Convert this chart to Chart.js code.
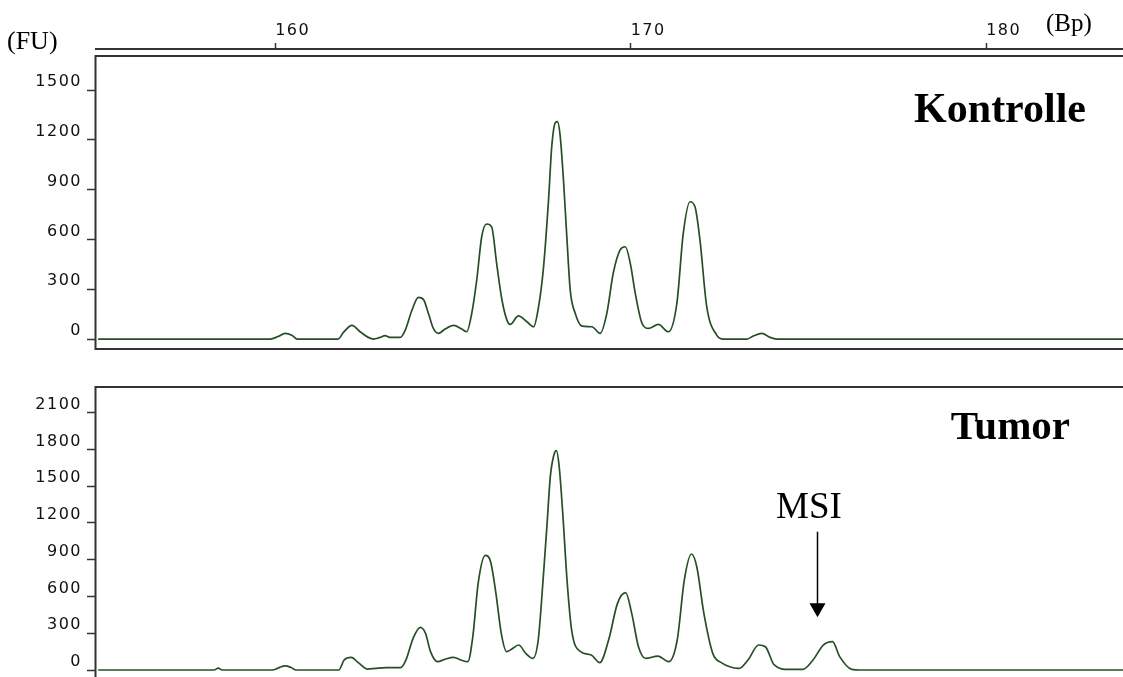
<!DOCTYPE html>
<html>
<head>
<meta charset="utf-8">
<title>Fragmentanalyse Kontrolle / Tumor</title>
<script src="https://cdn.jsdelivr.net/npm/chart.js@4.4.1/dist/chart.umd.min.js"></script>
<style>
  html, body { margin: 0; padding: 0; background: #fff; }
  #page { position: relative; width: 1123px; height: 677px; overflow: hidden; }
  #page canvas { position: absolute; left: 0; }
  #kontrolleChart { top: 0; }
  #tumorChart { top: 380px; }
  .note {
    position: absolute;
    font-family: 'Liberation Serif', 'Times New Roman', serif;
    line-height: 1;
    color: #000;
    white-space: nowrap;
  }
  .unit { font-size: 26px; }
  .panel-name { font-size: 42px; font-weight: bold; }
</style>
</head>
<body>
<div id="page">
  <canvas id="kontrolleChart" width="1123" height="351"></canvas>
  <canvas id="tumorChart" width="1123" height="297"></canvas>
  <div class="note unit" style="left:7px; top:28px;">(FU)</div>
  <div class="note unit" style="left:1046px; top:10px; font-size:25px;">(Bp)</div>
  <div class="note panel-name" style="right:37px; top:87px;">Kontrolle</div>
  <div class="note panel-name" style="right:53px; top:405px; font-size:41px;">Tumor</div>
  <div class="note" style="left:776px; top:487px; font-size:37px;">MSI</div>
</div>

<script>
// fragment size (bp) against fluorescence (FU), one trace per sample
const kontrolleTrace = [
  [155.02, 0], [159.86, 0], [160.08, 15], [160.28, 34], [160.48, 22], [160.62, 0],
  [161.77, 0], [161.92, 40], [162.16, 82], [162.39, 44], [162.62, 10], [162.77, 0],
  [162.95, 10], [163.09, 20], [163.23, 10], [163.52, 10], [163.66, 54], [163.85, 175],
  [164.03, 251], [164.17, 239], [164.31, 155], [164.45, 64], [164.59, 34], [164.78, 60],
  [165.02, 82], [165.25, 60], [165.39, 44], [165.53, 155], [165.67, 355], [165.81, 616],
  [165.95, 693], [166.09, 676], [166.23, 456], [166.38, 235], [166.52, 114], [166.61, 88],
  [166.84, 139], [167.08, 104], [167.27, 74], [167.41, 195], [167.55, 435], [167.69, 837],
  [167.78, 1158], [167.88, 1303], [167.94, 1309], [168.02, 1218], [168.11, 958], [168.21, 596],
  [168.30, 295], [168.44, 155], [168.63, 78], [168.91, 74], [169.14, 34], [169.33, 155],
  [169.51, 396], [169.70, 536], [169.85, 556], [169.99, 456], [170.13, 275], [170.32, 94],
  [170.50, 64], [170.78, 88], [171.06, 44], [171.30, 215], [171.48, 636], [171.67, 827],
  [171.81, 797], [171.95, 596], [172.14, 195], [172.42, 24], [172.61, 0], [173.27, 0],
  [173.45, 18], [173.69, 34], [173.92, 10], [174.11, 0], [183.85, 0]
];

const tumorTrace = [
  [155.02, 0], [158.28, 0], [158.40, 15], [158.51, 0], [159.92, 0], [160.11, 20],
  [160.28, 33], [160.45, 20], [160.59, 0], [161.79, 0], [161.94, 82], [162.14, 103],
  [162.34, 60], [162.59, 8], [162.84, 14], [163.13, 19], [163.53, 19], [163.68, 82],
  [163.88, 258], [164.08, 348], [164.23, 299], [164.37, 150], [164.57, 68], [164.77, 87],
  [165.02, 103], [165.22, 82], [165.42, 68], [165.56, 272], [165.71, 707], [165.91, 935],
  [166.06, 884], [166.21, 626], [166.36, 299], [166.51, 150], [166.65, 169], [166.85, 204],
  [167.05, 136], [167.25, 95], [167.40, 245], [167.55, 789], [167.65, 1197], [167.74, 1578],
  [167.84, 1755], [167.91, 1790], [167.99, 1659], [168.09, 1279], [168.21, 735], [168.34, 326],
  [168.59, 150], [168.89, 122], [169.13, 60], [169.38, 245], [169.63, 544], [169.86, 631],
  [170.03, 462], [170.22, 190], [170.42, 95], [170.77, 114], [171.07, 68], [171.31, 245],
  [171.51, 735], [171.71, 947], [171.86, 843], [172.06, 462], [172.31, 136], [172.55, 60],
  [173.05, 14], [173.30, 82], [173.60, 204], [173.79, 190], [174.04, 41], [174.44, 5],
  [174.84, 5], [175.13, 82], [175.42, 204], [175.68, 231], [175.88, 109], [176.22, 5],
  [176.46, 0], [183.85, 0]
];

const bpTicks = [160, 170, 180];
const kontrolleTicks = [0, 300, 600, 900, 1200, 1500];
const tumorTicks = [0, 300, 600, 900, 1200, 1500, 1800, 2100];

const bpRange = [154.96, 183.85];
const kontrolleRange = [-60, 1747];
const tumorRange = [-57, 2310];

// where the MSI arrow sits (bp) and the FU span it covers
const msiArrow = { bp: 175.23, from: 1129, to: 430 };

const INK = '#333';
const TRACE = '#264f26';
const tickFont = { family: "'DejaVu Sans', sans-serif", size: 16 };

// wide-set digits on the axes
const spacedText = {
  id: 'spacedText',
  beforeDraw(chart) {
    chart.ctx.letterSpacing = '1.5px';
  }
};

// panel outline: left edge, top edge (optionally inset), optional bottom edge
const frame = {
  id: 'frame',
  afterDraw(chart, args, opts) {
    const { ctx, chartArea: a } = chart;
    const top = a.top + (opts.inset || 0);
    ctx.save();
    ctx.strokeStyle = INK;
    ctx.lineWidth = 2;
    ctx.beginPath();
    ctx.moveTo(a.right + 2, top);
    ctx.lineTo(a.left - 0.5, top);
    ctx.lineTo(a.left - 0.5, opts.bottom ? a.bottom : chart.height + 2);
    if (opts.bottom) ctx.lineTo(a.right + 2, a.bottom);
    ctx.stroke();
    ctx.restore();
  }
};

const arrow = {
  id: 'arrow',
  afterDraw(chart, args, opts) {
    if (!opts.at) return;
    const { ctx, scales: { x, y } } = chart;
    const px = Math.round(x.getPixelForValue(opts.at.bp)) + 0.5;
    const y0 = y.getPixelForValue(opts.at.from);
    const y1 = y.getPixelForValue(opts.at.to);
    ctx.save();
    ctx.strokeStyle = '#000';
    ctx.fillStyle = '#000';
    ctx.lineWidth = 1.5;
    ctx.beginPath();
    ctx.moveTo(px, y0);
    ctx.lineTo(px, y1 - 12);
    ctx.stroke();
    ctx.beginPath();
    ctx.moveTo(px - 8, y1 - 14);
    ctx.lineTo(px + 8, y1 - 14);
    ctx.lineTo(px, y1);
    ctx.closePath();
    ctx.fill();
    ctx.restore();
  }
};

function toPoints(trace) {
  return trace.map(([bp, fu]) => ({ x: bp, y: fu }));
}

function yAxis(range, ticks) {
  return {
    type: 'linear',
    min: range[0],
    max: range[1],
    afterFit: scale => {
      scale.width = 96;
      scale.paddingTop = 0;
      scale.paddingBottom = 0;
    },
    afterBuildTicks: scale => { scale.ticks = ticks.map(v => ({ value: v })); },
    border: { display: false },
    grid: {
      drawOnChartArea: false,
      drawTicks: true,
      tickLength: 9,
      tickWidth: 1.5,
      tickColor: INK,
    },
    ticks: {
      color: '#111',
      font: tickFont,
      padding: 5,
      labelOffset: -8,
      callback: v => String(v),
    },
  };
}

function xAxis(visible) {
  return {
    type: 'linear',
    position: 'top',
    display: visible,
    min: bpRange[0],
    max: bpRange[1],
    afterFit: scale => {
      scale.height = visible ? 49 : 0;
      scale.paddingLeft = 0;
      scale.paddingRight = 0;
    },
    afterBuildTicks: scale => { scale.ticks = bpTicks.map(v => ({ value: v })); },
    border: { display: true, color: INK, width: 2 },
    grid: {
      drawOnChartArea: false,
      drawTicks: true,
      tickLength: 6,
      tickWidth: 1.5,
      tickColor: INK,
    },
    ticks: {
      color: '#111',
      font: tickFont,
      align: 'start',
      padding: 3,
      maxRotation: 0,
      autoSkip: false,
      callback: v => String(v),
    },
  };
}

function traceChart(canvasId, trace, range, ticks, extra) {
  return new Chart(document.getElementById(canvasId), {
    type: 'line',
    data: {
      datasets: [{
        data: toPoints(trace),
        borderColor: TRACE,
        borderWidth: 1.7,
        pointRadius: 0,
        fill: false,
        cubicInterpolationMode: 'monotone',
      }],
    },
    options: {
      responsive: false,
      animation: false,
      devicePixelRatio: 1,
      layout: { padding: extra.padding },
      scales: {
        x: xAxis(extra.showBp),
        y: yAxis(range, ticks),
      },
      plugins: {
        legend: { display: false },
        tooltip: { enabled: false },
        frame: extra.frame,
        arrow: { at: extra.arrow || null },
      },
    },
    plugins: [spacedText, frame, arrow],
  });
}

traceChart('kontrolleChart', kontrolleTrace, kontrolleRange, kontrolleTicks, {
  showBp: true,
  padding: { top: 0, bottom: 2, left: 0, right: 0 },
  frame: { inset: 7, bottom: true },
});

traceChart('tumorChart', tumorTrace, tumorRange, tumorTicks, {
  showBp: false,
  padding: { top: 7, bottom: 0, left: 0, right: 0 },
  frame: { inset: 0, bottom: false },
  arrow: msiArrow,
});
</script>
</body>
</html>
